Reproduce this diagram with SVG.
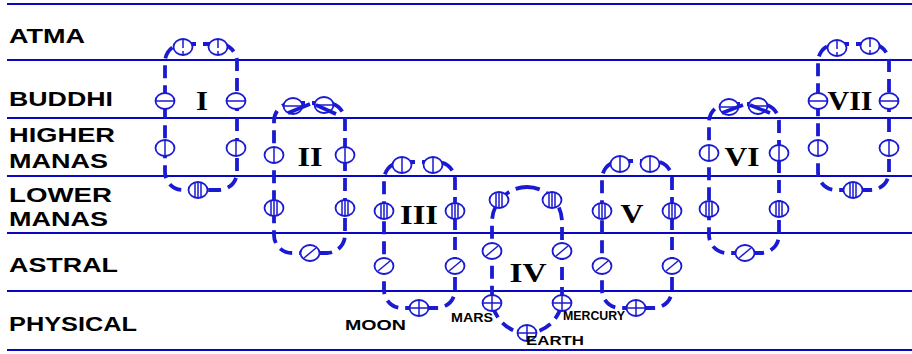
<svg xmlns="http://www.w3.org/2000/svg" width="912" height="354" viewBox="0 0 912 354">
<style>
.plane{stroke:#0808c4;stroke-width:2.2;}
.loop{fill:none;stroke:#1a1ad2;stroke-width:3.8;stroke-dasharray:13 7;}
.seg{fill:none;stroke:#1a1ad2;stroke-width:3.6;}
.orb{fill:#fff;stroke:#1a1ad2;stroke-width:1.8;}
.sym{stroke:#1a1ad2;stroke-width:1.5;fill:none;}
.lbl{font-family:"Liberation Sans",Arial,sans-serif;font-weight:bold;font-size:20px;fill:#000;}
.num{font-family:"Liberation Serif","Times New Roman",serif;font-weight:bold;font-size:28px;fill:#000;text-anchor:middle;}
.small{font-family:"Liberation Sans",Arial,sans-serif;font-weight:bold;font-size:12px;fill:#000;}
</style>
<defs>
<g id="atma"><ellipse class="orb" rx="9.5" ry="8"/><path class="sym" d="M0,-8V1M0,4V8"/></g>
<g id="buddhi"><ellipse class="orb" rx="9.5" ry="8"/><path class="sym" d="M-9.5,0H9.5"/></g>
<g id="hmanas"><ellipse class="orb" rx="9.5" ry="8"/><path class="sym" d="M0,-8V8"/></g>
<g id="lmanas"><ellipse class="orb" rx="9.5" ry="8"/><path class="sym" d="M-3,-7.6V7.6M0,-8V8M3,-7.6V7.6"/></g>
<g id="astral"><ellipse class="orb" rx="9.5" ry="8"/><path class="sym" d="M-6,5L6,-5"/></g>
<g id="physical"><ellipse class="orb" rx="9.5" ry="8"/><path class="sym" d="M-9.5,0H9.5M0,-8V8"/></g>
</defs>
<rect width="912" height="354" fill="#fff"/>
<g id="planes">
<path class="plane" d="M7,4H912M7,60H912M7,118H912M7,176H912M7,233H912M7,291H912M7,350H912"/>
<text class="lbl" x="9" y="43" textLength="76" lengthAdjust="spacingAndGlyphs">ATMA</text>
<text class="lbl" x="9" y="106" textLength="104" lengthAdjust="spacingAndGlyphs">BUDDHI</text>
<text class="lbl" x="9" y="142" textLength="106" lengthAdjust="spacingAndGlyphs">HIGHER</text>
<text class="lbl" x="9" y="168" textLength="99" lengthAdjust="spacingAndGlyphs">MANAS</text>
<text class="lbl" x="9" y="202" textLength="103" lengthAdjust="spacingAndGlyphs">LOWER</text>
<text class="lbl" x="9" y="226" textLength="99" lengthAdjust="spacingAndGlyphs">MANAS</text>
<text class="lbl" x="9" y="272" textLength="109" lengthAdjust="spacingAndGlyphs">ASTRAL</text>
<text class="lbl" x="9" y="331" textLength="128" lengthAdjust="spacingAndGlyphs">PHYSICAL</text>
</g>
<g id="connectors">
<rect class="loop" x="165" y="44" width="72" height="146" rx="18"/>
<rect class="loop" x="274" y="103" width="71" height="150" rx="18"/>
<rect class="loop" x="384" y="162" width="71" height="146" rx="18"/>
<rect class="loop" x="492" y="187" width="70" height="146" rx="35"/>
<rect class="loop" x="602" y="161" width="70" height="147" rx="18"/>
<rect class="loop" x="709" y="104" width="70" height="149" rx="18"/>
<rect class="loop" x="818" y="44" width="71" height="146" rx="18"/>
</g>
<g id="round-I">
<use href="#atma" x="183" y="47"/><use href="#atma" x="218" y="47"/>
<use href="#buddhi" x="165" y="101"/><use href="#buddhi" x="236" y="101"/>
<use href="#hmanas" x="165" y="148"/><use href="#hmanas" x="236" y="148"/>
<use href="#lmanas" x="198" y="190"/>
<text class="num" x="202" y="110" textLength="12" lengthAdjust="spacingAndGlyphs">I</text>
</g>
<g id="round-II">
<use href="#buddhi" x="293" y="106"/><use href="#buddhi" x="324" y="105"/>
<path class="seg" d="M288,113L310,104M316,105L336,114"/>
<use href="#hmanas" x="274" y="155"/><use href="#hmanas" x="345" y="155"/>
<use href="#lmanas" x="274" y="208"/><use href="#lmanas" x="345" y="208"/>
<use href="#astral" x="310" y="253"/>
<text class="num" x="310" y="166" textLength="25" lengthAdjust="spacingAndGlyphs">II</text>
</g>
<g id="round-III">
<use href="#hmanas" x="402" y="165"/><use href="#hmanas" x="433" y="165"/>
<use href="#lmanas" x="384" y="211"/><use href="#lmanas" x="455" y="211"/>
<use href="#astral" x="384" y="266"/><use href="#astral" x="455" y="266"/>
<use href="#physical" x="419" y="308"/>
<text class="num" x="419" y="224" textLength="38" lengthAdjust="spacingAndGlyphs">III</text>
<text class="small" x="345" y="330" style="font-size:15px" textLength="61" lengthAdjust="spacingAndGlyphs">MOON</text>
</g>
<g id="round-IV">
<use href="#lmanas" x="499" y="200"/><use href="#lmanas" x="552" y="200"/>
<use href="#astral" x="492" y="251"/><use href="#astral" x="562" y="251"/>
<use href="#physical" x="492" y="303"/><use href="#physical" x="562" y="303"/>
<use href="#physical" x="527" y="333"/>
<text class="num" x="528" y="282" textLength="37" lengthAdjust="spacingAndGlyphs">IV</text>
<text class="small" x="451" y="322" textLength="42" lengthAdjust="spacingAndGlyphs">MARS</text>
<text class="small" x="526" y="345" textLength="58" lengthAdjust="spacingAndGlyphs">EARTH</text>
<text class="small" x="563" y="320" textLength="62" lengthAdjust="spacingAndGlyphs">MERCURY</text>
</g>
<g id="round-V">
<use href="#hmanas" x="620" y="164"/><use href="#hmanas" x="650" y="164"/>
<use href="#lmanas" x="602" y="211"/><use href="#lmanas" x="672" y="211"/>
<use href="#astral" x="602" y="266"/><use href="#astral" x="672" y="266"/>
<use href="#physical" x="636" y="308"/>
<text class="num" x="632" y="223" textLength="23" lengthAdjust="spacingAndGlyphs">V</text>
</g>
<g id="round-VI">
<use href="#buddhi" x="729" y="107"/><use href="#buddhi" x="758" y="106"/>
<path class="seg" d="M722,113L743,105M750,105L770,113"/>
<use href="#hmanas" x="709" y="153"/><use href="#hmanas" x="779" y="153"/>
<use href="#lmanas" x="709" y="209"/><use href="#lmanas" x="779" y="209"/>
<use href="#astral" x="745" y="253"/>
<text class="num" x="742" y="166" textLength="35" lengthAdjust="spacingAndGlyphs">VI</text>
</g>
<g id="round-VII">
<use href="#atma" x="837" y="48"/><use href="#atma" x="870" y="46"/>
<use href="#buddhi" x="818" y="101"/><use href="#buddhi" x="889" y="101"/>
<use href="#hmanas" x="818" y="148"/><use href="#hmanas" x="889" y="148"/>
<use href="#lmanas" x="853" y="190"/>
<text class="num" x="850" y="110" textLength="45" lengthAdjust="spacingAndGlyphs">VII</text>
</g>
</svg>
